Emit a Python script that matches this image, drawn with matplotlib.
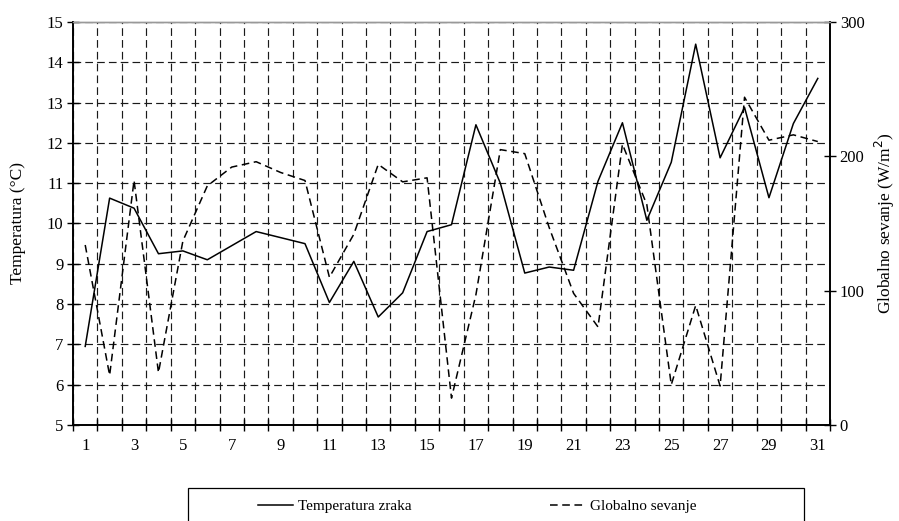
import numpy as np
import matplotlib
matplotlib.use("Agg")
import matplotlib.pyplot as plt
from matplotlib.patches import Rectangle

plt.rcParams['font.family'] = ['Liberation Serif', 'DejaVu Serif']
plt.rcParams['font.size'] = 12

# Daily values (day of month)
days = np.arange(1, 32)
temperatura = [6.95, 10.63, 10.38, 9.25, 9.32, 9.1, 9.45, 9.8, 9.65, 9.5,
               8.04, 9.06, 7.68, 8.28, 9.8, 9.97, 12.45, 11.0, 8.77, 8.92,
               8.84, 11.05, 12.5, 10.08, 11.52, 14.45, 11.63, 12.88, 10.64,
               12.48, 13.6]
sevanje = [134, 37, 182, 39, 137, 178, 192, 196, 188, 182,
           110, 142, 194, 181, 184, 20, 97, 205, 202, 147,
           98, 73, 209, 164, 30, 89, 29, 244, 212, 216, 211]
day_labels = [str(d) for d in range(1, 32, 2)]

W, H = 899, 521
fig = plt.figure(figsize=(W / 100, H / 100), dpi=100)
ax = fig.add_axes([73 / W, 1 - 425 / H, (830 - 73) / W, (425 - 22) / H])
ax2 = ax.twinx()

# gridlines
grid_kw = dict(color='#1a1a1a', lw=0.85, linestyle=(0, (6.5, 3.5)))
ax.set_xlim(0.5, 31.5)
ax.set_ylim(5, 15)
ax.set_yticks(range(5, 16))
ax.set_xticks(np.arange(0.5, 32, 1))
ax.set_xticklabels([])
ax.set_xticks(range(1, 32, 2), minor=True)
ax.set_xticklabels(day_labels, minor=True)
ax.tick_params(axis='x', which='minor', length=0, pad=9)
ax.tick_params(axis='x', which='major', direction='inout', length=8, width=1)
ax.tick_params(axis='y', direction='inout', length=8, width=1, pad=3)
ax.grid(True, which='major', axis='both', **grid_kw)
ax.set_axisbelow(True)

line_t, = ax.plot(days, temperatura, color='black', lw=1.1,
                  label='Temperatura zraka', zorder=3)

line_s, = ax2.plot(days, sevanje, color='black', lw=1.1,
                   linestyle=(0, (5, 3)), label='Globalno sevanje', zorder=3)
ax2.set_ylim(0, 300)
ax2.set_yticks([0, 100, 200, 300])
ax2.tick_params(axis='y', direction='inout', length=8, width=1, pad=3)

for a in (ax, ax2):
    a.spines['top'].set_color('#999999')
    a.spines['top'].set_linewidth(1.0)
    for s in ('left', 'right', 'bottom'):
        a.spines[s].set_linewidth(1.2)

ax.set_ylabel('Temperatura (°C)', fontsize=12.5)
ax.yaxis.set_label_coords(-0.062, 0.5)
ax2.set_ylabel('Globalno sevanje (W/m$^2$)', fontsize=12.5)
ax2.yaxis.set_label_coords(1.057, 0.5)

# legend box (cut by bottom edge of the figure)
fig.patches.append(Rectangle((188 / W, -0.1), (804 - 188) / W, 0.1 + (521 - 488) / H,
                             transform=fig.transFigure, fill=False,
                             edgecolor='black', lw=0.9, clip_on=False))
leg_y = (521 - 506) / H
for handle, x0 in ((line_t, 258), (line_s, 550)):
    fig.legend(handles=[handle], loc='center left',
               bbox_to_anchor=(x0 / W, leg_y), frameon=False,
               handlelength=2.3, handletextpad=0.3, borderpad=0,
               borderaxespad=0, fontsize=11)

fig.savefig('out.png', dpi=100)
